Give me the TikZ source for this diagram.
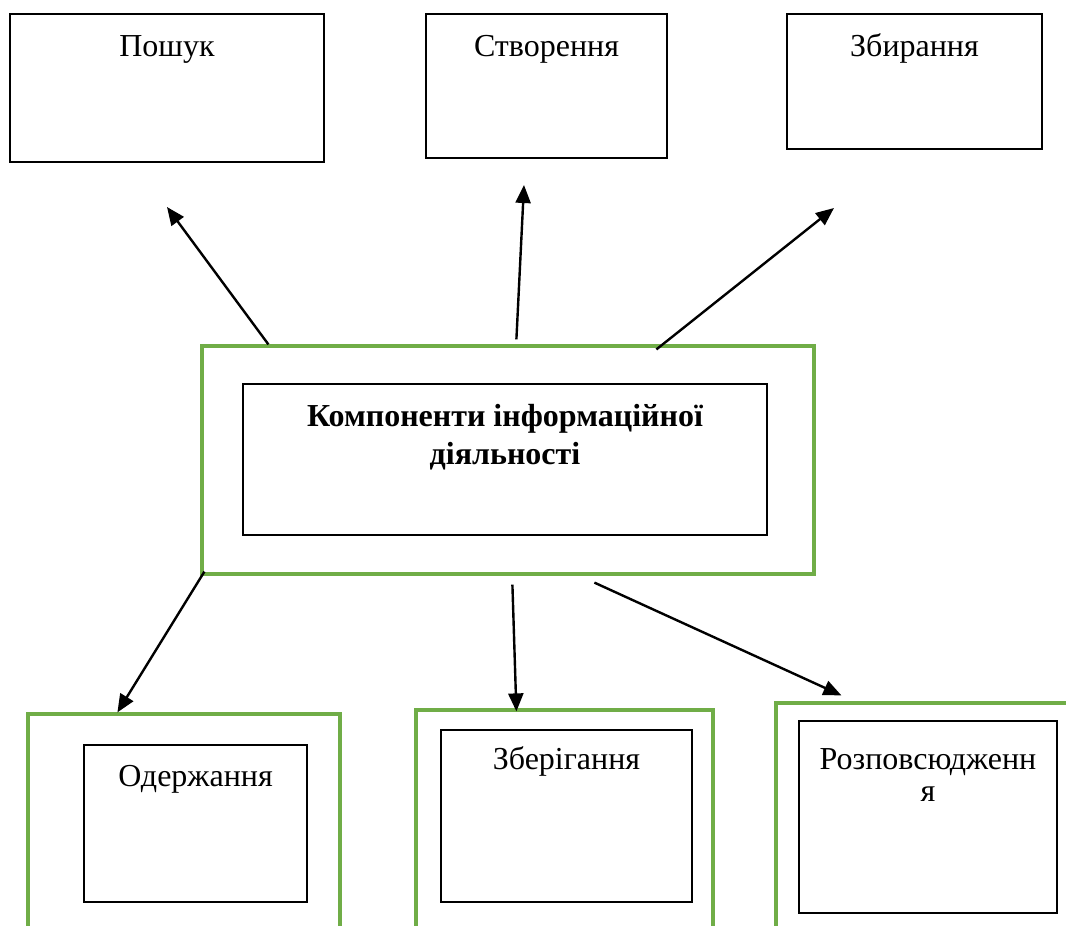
\documentclass[tikz,border=0pt]{standalone}
\usepackage{fontspec}
\setmainfont{Liberation Serif}
\usetikzlibrary{arrows.meta, positioning, calc}
\definecolor{leafgreen}{RGB}{112,173,71}
\tikzset{block/.style = {
  % Rectangle:
  rectangle,
  draw=black, line width=1.4pt,
  fill=white,
  inner sep=0pt
  }}
\tikzset{frame/.style = {
  % Rectangle:
  rectangle,
  draw=leafgreen, line width=3.2pt,
  inner sep=0pt
  }}
\tikzset{caption/.style = {
  % Text
  anchor=base, yshift=-#1,
  font=\fontsize{32}{34}\selectfont,
  align=center, inner sep=0pt
  }}
\tikzset{arrow/.style = {
  -{Triangle[length=18pt, width=15pt]},
  line width=2.4pt,
  draw=black
  }}

\begin{document}
\begin{tikzpicture}[x=1pt, y=-1pt]
\useasboundingbox (0,0) rectangle (1066,926);

% TOP NODES
\node (poshuk) [block, minimum width=314, minimum height=148,
  label={[caption=43pt]north:Пошук}] at (167,88) {};
\node (stvor) [block, minimum width=241, minimum height=144,
  label={[caption=43pt]north:Створення}] at (546.5,86) {};
\node (zbyr) [block, minimum width=255, minimum height=135,
  label={[caption=43pt]north:Збирання}] at (914.5,81.5) {};

% CENTRE
\node (komp) [frame, minimum width=612, minimum height=228] at (508,460) {};
\node (kompin) [block, minimum width=524, minimum height=151,
  label={[caption=81pt, font=\fontsize{32}{38}\selectfont\bfseries]north:Компоненти інформаційної\\діяльності}]
  at (505,459.5) {};

% BOTTOM NODES
\node (oderzh) [frame, minimum width=312, minimum height=226] at (184,827) {};
\node (oderzhin) [block, minimum width=223, minimum height=157,
  label={[caption=42pt]north:Одержання}] at (195.5,823.5) {};

\node (zberih) [frame, minimum width=297, minimum height=230] at (564.5,825) {};
\node (zberihin) [block, minimum width=251, minimum height=172,
  label={[caption=40pt]north:Зберігання}] at (566.5,816) {};

\node (rozp) [frame, minimum width=304, minimum height=237] at (928,821.5) {};
\node (rozpin) [block, minimum width=258, minimum height=192,
  label={[caption=81pt, font=\fontsize{32}{32}\selectfont]north:Розповсюдженн\\я}]
  at (928,817) {};

% free arrow ends
\coordinate (toposhuk) at (167,207);
\coordinate (tostvor) at (524,185);
\coordinate (tozbyr) at (834,208);

% arrows
\draw [arrow] ([xshift=68pt]komp.north west) -- (toposhuk);
\draw [arrow] ([xshift=316pt, yshift=5pt]komp.north west) -- (tostvor);
\draw [arrow] ([xshift=456pt, yshift=-5pt]komp.north west) -- (tozbyr);

\draw [arrow] ([xshift=4pt, yshift=4pt]komp.south west) -- ([xshift=91pt]oderzh.north west);
\draw [arrow] ([xshift=312pt, yshift=-9pt]komp.south west) -- ([xshift=102pt, yshift=-3pt]zberih.north west);
\draw [arrow] ([xshift=394pt, yshift=-7pt]komp.south west) -- ([xshift=67pt, yshift=6pt]rozp.north west);
\end{tikzpicture}
\end{document}
